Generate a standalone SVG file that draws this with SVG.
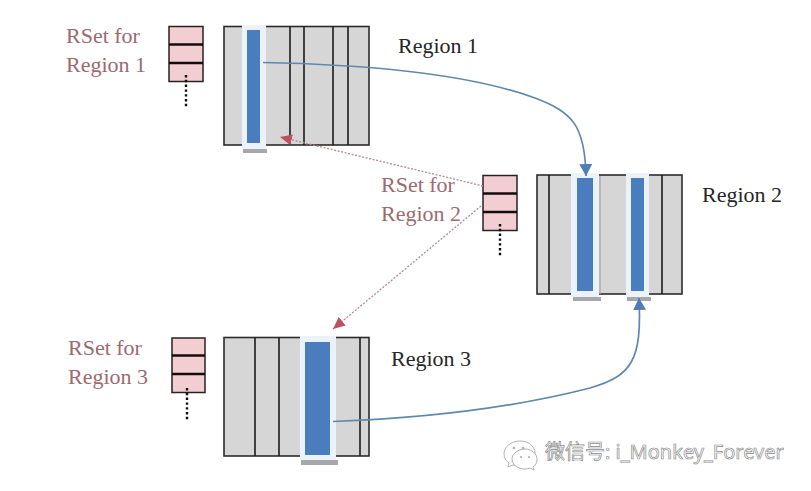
<svg xmlns="http://www.w3.org/2000/svg" width="811" height="491" viewBox="0 0 811 491">
  <style>
    .cell { fill: #d6d6d6; stroke: #2b2b2b; stroke-width: 1.6; }
    .div { stroke: #1c1c1c; stroke-width: 1.6; fill: none; }
    .glow { fill: #ebf2fa; }
    .shadow { fill: #a6a8ab; }
    .bar { fill: #4a7dbd; }
    .rset { fill: #f2ced3; stroke: #2b2020; stroke-width: 1.5; }
    .rdiv { stroke: #140c0c; stroke-width: 2.4; fill: none; }
    .more { stroke: #111; stroke-width: 2.4; stroke-dasharray: 2.4 2.4; fill: none; }
    .rlabel { font: 22px "Liberation Serif", "Times New Roman", serif; fill: #9c6a70; }
    .title { font: 22px "Liberation Serif", "Times New Roman", serif; fill: #262626; }
    .blue { fill: none; stroke: #5f88ad; stroke-width: 1.7; }
    .red { fill: none; stroke: #b08a90; stroke-width: 1.3; stroke-dasharray: 2 1.6; }
    .mark-line { fill: #fff; stroke: #a8a8a8; stroke-width: 0.9; }
    .mark-text { font: 20px "Noto Sans", "Noto Sans CJK SC", sans-serif; fill: #fff; stroke: #8c8c8c; stroke-width: 0.7; }
  </style>
  <defs>
    <marker id="tipBlue" markerUnits="userSpaceOnUse" markerWidth="14" markerHeight="14" refX="12" refY="6.5" orient="auto">
      <path d="M0 0 L12 6.5 L0 13 Z" fill="#4f7db4"/>
    </marker>
    <marker id="tipRed" markerUnits="userSpaceOnUse" markerWidth="14" markerHeight="14" refX="12" refY="5.5" orient="auto">
      <path d="M0 0 L12 5.5 L0 11 Z" fill="#c0505c"/>
    </marker>
  </defs>
  <rect width="811" height="491" fill="#fff"/>

  <g id="rset-1">
    <rect class="rset" x="169" y="26.500" width="34" height="55"/>
    <path class="rdiv" d="M169 44.500H203M169 63H203"/>
    <path class="more" d="M186 75V108"/>
    <text class="rlabel" x="66" y="43">RSet for</text>
    <text class="rlabel" x="66" y="72">Region 1</text>
  </g>

  <g id="region-1">
    <rect class="cell" x="224" y="26.500" width="145" height="118.500"/>
    <path class="div" d="M290 26.500V145M304 26.500V145M333 26.500V145M348 26.500V145"/>
    <rect class="shadow" x="243" y="149" width="24" height="4"/>
    <rect class="glow" x="242" y="25" width="24" height="124"/>
    <rect class="bar" x="247" y="30" width="13" height="113"/>
    <text class="title" x="398" y="53">Region 1</text>
  </g>

  <g id="rset-2">
    <rect class="rset" x="483" y="175.500" width="34" height="55"/>
    <path class="rdiv" d="M483 193.500H517M483 212H517"/>
    <path class="more" d="M500 224V256"/>
    <text class="rlabel" x="381" y="192">RSet for</text>
    <text class="rlabel" x="381" y="221">Region 2</text>
  </g>

  <g id="region-2">
    <rect class="cell" x="537" y="175" width="145" height="119"/>
    <path class="div" d="M549 175V294M662 175V294"/>
    <rect class="shadow" x="573" y="297" width="28" height="4"/>
    <rect class="shadow" x="627" y="297" width="24" height="4"/>
    <rect class="shadow" x="599" y="176" width="2" height="118" opacity="0.7"/>
    <rect class="glow" x="571" y="173" width="28" height="124"/>
    <rect class="glow" x="626" y="173" width="23" height="124"/>
    <rect class="bar" x="577" y="178" width="16" height="113"/>
    <rect class="bar" x="631" y="178" width="13" height="113"/>
    <text class="title" x="702" y="202">Region 2</text>
  </g>

  <g id="rset-3">
    <rect class="rset" x="172" y="338" width="33" height="54.500"/>
    <path class="rdiv" d="M172 355.500H205M172 374H205"/>
    <path class="more" d="M187 388V421"/>
    <text class="rlabel" x="68" y="355">RSet for</text>
    <text class="rlabel" x="68" y="384">Region 3</text>
  </g>

  <g id="region-3">
    <rect class="cell" x="224" y="337.500" width="145" height="118.500"/>
    <path class="div" d="M255 337.500V456M279 337.500V456M360 337.500V456"/>
    <rect class="shadow" x="301" y="460" width="37" height="5"/>
    <rect class="glow" x="300" y="336" width="36" height="124"/>
    <rect class="bar" x="305" y="342" width="25" height="113"/>
    <text class="title" x="391" y="366">Region 3</text>
  </g>

  <g id="connectors">
    <path class="blue" marker-end="url(#tipBlue)" d="M263 62.500C390 65 480 78 535 98C572 112 585 125 586 176"/>
    <path class="blue" marker-end="url(#tipBlue)" d="M333 421.500C430 418 520 406 590 388C632 376 642 360 639 298"/>
    <path class="red" marker-end="url(#tipRed)" d="M483 186L280 137"/>
    <path class="red" marker-end="url(#tipRed)" d="M481 206L333 329"/>
  </g>

  <g id="watermark">
    <path class="mark-line" d="M520 441C511 441 504 447 504 454C504 458 506 461 509 463L508 467L513 465C515 465.500 518 466 520 466C528 466 535 460 535 453C535 446 528 441 520 441Z"/>
    <path class="mark-line" d="M525 449C518 449 512 454 512 459C512 465 518 469 525 469C527 469 529 468.500 530 468L534 470L533 467C536 465 537 462 537 459C537 454 532 449 525 449Z"/>
    <circle cx="514" cy="448" r="1.300" fill="#b0b0b0"/>
    <circle cx="523" cy="448" r="1.300" fill="#b0b0b0"/>
    <circle cx="521" cy="457" r="1.100" fill="#b0b0b0"/>
    <circle cx="529" cy="457" r="1.100" fill="#b0b0b0"/>
    <text class="mark-text" x="545" y="459">微信号: i_Monkey_Forever</text>
  </g>
</svg>
